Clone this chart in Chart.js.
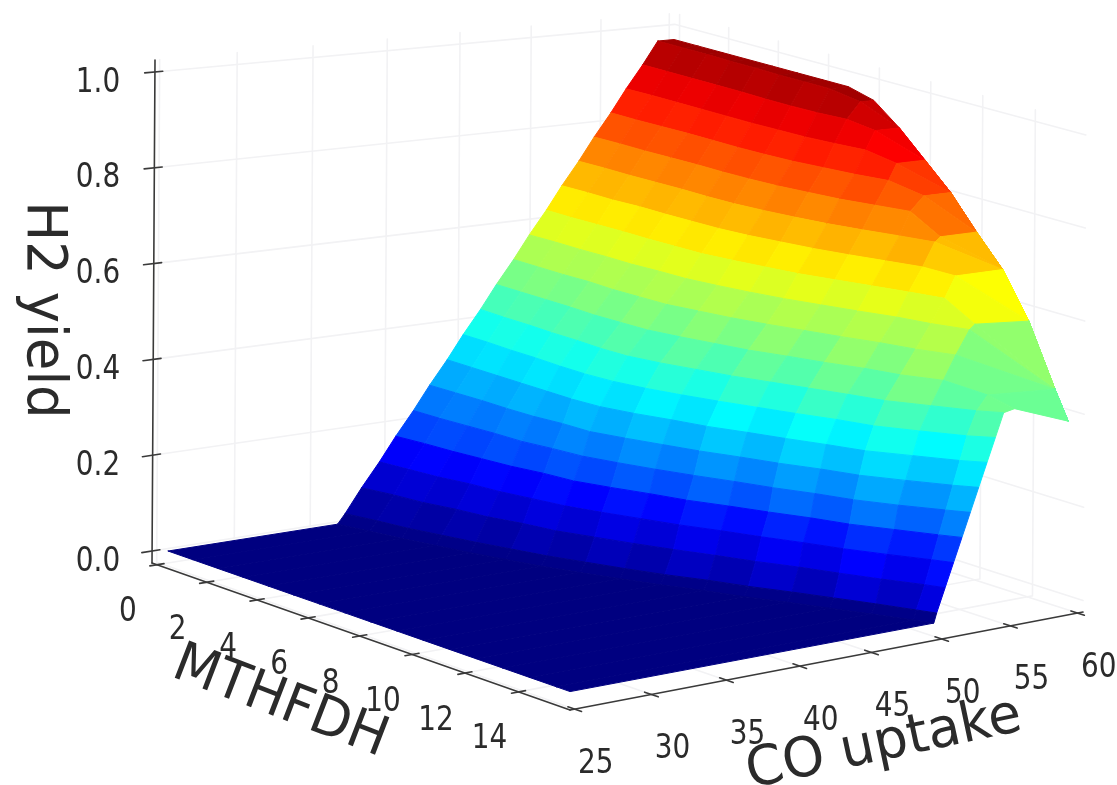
<!DOCTYPE html>
<html>
<head>
<meta charset="utf-8">
<title>H2 yield surface</title>
<script src="https://cdn.jsdelivr.net/npm/chart.js@4"></script>
<style>
  html, body { margin: 0; padding: 0; background: #fff; }
  canvas { display: block; filter: blur(0.6px); }
</style>
</head>
<body>
<canvas id="surface" width="1117" height="785"></canvas>
<script>
// ===================== data ===================== //
const mthfdhValues = [0, 1, 2, 3, 4, 5, 6, 7, 8, 9, 10, 11, 12, 13, 14, 15, 15.5];
const coUptakeStart = 25.4;
const coUptakeEnd = 60;

// yield levels followed across the surface (the colour bands)
const yieldLevels = [0, .02, .07, .12, .17, .22, .27, .32, .37, .42, .47, .52, .57, .62, .67, .72, .77, .82, .87, .92, .97];

// highest yield on each MTHFDH row, and the yield left at the CO uptake = 60 edge
const yieldCap = [.97, .97, .97, .97, .97, .97, .97, .97, .955, .91, .855, .80, .73, .665, .58, .45, .425];
const yieldAtEnd = [.97, .97, .97, .97, .97, .97, .97, .97, .955, .91, .855, .80, .73, .665, .57, .44, .38];

// CO uptake where each MTHFDH row reaches each yield level
const coAtLevel = [
    [36.5, 37.0, 38.1, 39.3, 40.4, 41.6, 42.7, 43.9, 45.0, 46.2, 47.3, 48.5, 49.6, 50.8, 51.9, 53.1, 54.2, 55.4, 56.5, 57.7, 58.8],
    [37.0, 37.5, 38.6, 39.6, 40.7, 41.7, 42.8, 43.9, 45.0, 46.1, 47.3, 48.5, 49.7, 50.8, 52.0, 53.2, 54.3, 55.4, 56.6, 57.7, 58.8],
    [37.5, 37.9, 38.9, 39.9, 40.9, 41.9, 42.9, 43.9, 44.9, 46.1, 47.3, 48.5, 49.7, 50.9, 52.0, 53.2, 54.3, 55.5, 56.6, 57.7, 58.8],
    [38.1, 38.5, 39.5, 40.4, 41.2, 42.1, 42.9, 43.9, 44.9, 46.0, 47.3, 48.6, 49.8, 51.0, 52.2, 53.3, 54.4, 55.6, 56.6, 57.7, 58.7],
    [38.7, 39.1, 39.9, 40.7, 41.5, 42.2, 43.0, 43.9, 44.8, 46.0, 47.2, 48.5, 49.8, 51.0, 52.2, 53.4, 54.5, 55.6, 56.6, 57.7, 58.7],
    [39.4, 39.8, 40.6, 41.2, 42.0, 42.6, 43.3, 43.9, 44.8, 45.9, 47.3, 48.6, 50.0, 51.1, 52.3, 53.4, 54.5, 55.6, 56.6, 57.6, 58.6],
    [40.1, 40.5, 41.1, 41.7, 42.3, 42.9, 43.4, 44.1, 45.0, 46.0, 47.4, 48.7, 50.1, 51.2, 52.4, 53.5, 54.6, 55.7, 56.7, 57.6, 58.6],
    [41.0, 41.4, 42.0, 42.5, 43.1, 43.6, 44.1, 44.7, 45.5, 46.5, 47.9, 49.2, 50.5, 51.6, 52.7, 53.8, 54.8, 55.9, 56.8, 57.7, 58.6],
    [42.0, 42.3, 42.9, 43.4, 44.0, 44.4, 44.9, 45.5, 46.2, 47.2, 48.5, 49.7, 51.0, 52.1, 53.2, 54.2, 55.2, 56.3, 57.1, 58.0, 59.0],
    [43.0, 43.3, 43.9, 44.3, 44.8, 45.3, 45.7, 46.2, 47.0, 47.9, 49.1, 50.4, 51.6, 52.6, 53.7, 54.7, 55.6, 56.7, 57.5, 58.2, 60],
    [44.2, 44.5, 45.0, 45.4, 45.9, 46.3, 46.7, 47.2, 47.9, 48.8, 50.0, 51.2, 52.4, 53.4, 54.4, 55.4, 56.3, 57.3, 57.9, 60, 60],
    [45.2, 45.5, 46.0, 46.4, 46.9, 47.2, 47.6, 48.1, 48.8, 49.7, 50.8, 52.0, 53.2, 54.2, 55.2, 56.2, 57.0, 58.0, 60, 60, 60],
    [46.4, 46.7, 47.2, 47.5, 48.0, 48.3, 48.7, 49.1, 49.8, 50.6, 51.8, 52.9, 54.1, 55.0, 56.0, 56.9, 57.3, 60, 60, 60, 60],
    [47.5, 47.8, 48.2, 48.5, 48.9, 49.2, 49.6, 50.0, 50.6, 51.4, 52.5, 53.6, 54.7, 55.7, 56.5, 60, 60, 60, 60, 60, 60],
    [48.6, 48.9, 49.3, 49.7, 50.2, 50.5, 51.0, 51.5, 52.0, 52.8, 53.7, 54.6, 55.6, 56.0, 60, 60, 60, 60, 60, 60, 60],
    [49.7, 49.9, 50.5, 51.0, 51.5, 52.0, 52.5, 53.0, 53.5, 54.2, 55.0, 60, 60, 60, 60, 60, 60, 60, 60, 60, 60],
    [50.2, 50.4, 51.0, 51.6, 52.2, 52.8, 53.4, 54.0, 54.6, 55.2, 56.0, 60, 60, 60, 60, 60, 60, 60, 60, 60, 60]
];

const yieldTicks = [0, 0.2, 0.4, 0.6, 0.8, 1];
const mthfdhTicks = [0, 2, 4, 6, 8, 10, 12, 14];
const coUptakeTicks = [25, 30, 35, 40, 45, 50, 55, 60];

// ===================== 3D box and camera ===================== //
const box = { uLo: -0.2, uHi: 15.9, vLo: 24.7, vHi: 60.4, zLo: -0.025, zHi: 1.025 };

function project(u, v, z) {
    const s = (u - box.uLo) / (box.uHi - box.uLo);
    const t = (v - box.vLo) / (box.vHi - box.vLo);
    const r = (z - box.zLo) / (box.zHi - box.zLo);
    const w = 1 - 0.0485 * s + 0.0776 * t;
    return {
        x: (390.4 * s + 572.1 * t + 152 + 3 * r) / w,
        y: (112.6 * s - 45.75 * t + 563 - 503 * r) / w
    };
}

// matplotlib jet
function jet(x) {
    const c = k => Math.round(255 * Math.max(0, Math.min(1, 1.5 - Math.abs(4 * x - k))));
    return `rgb(${c(3)},${c(2)},${c(1)})`;
}

function lineSet(points, color, width) {
    return { data: points, showLine: true, fill: false, borderColor: color, borderWidth: width, pointRadius: 0 };
}

// mesh vertex on row i: column 0 is the flat start, then the levels, then the far edge
function vertex(i, col) {
    const u = mthfdhValues[i];
    if (col === 0) return { u, v: coUptakeStart, z: 0 };
    if (col > yieldLevels.length) return { u, v: coUptakeEnd, z: yieldAtEnd[i] };
    const v = coAtLevel[i][col - 1];
    const z = v >= coUptakeEnd ? yieldAtEnd[i] : Math.min(yieldLevels[col - 1], yieldCap[i]);
    return { u, v, z };
}

// ===================== build datasets ===================== //
const datasets = [];
const axisColor = '#3a3a3a';
const gridColor = '#f2f2f4';

// axes and ticks go first so they sit on top
datasets.push(lineSet([project(box.uLo, box.vLo, box.zLo), project(box.uLo, box.vLo, box.zHi)], axisColor, 1.6));
datasets.push(lineSet([project(box.uLo, box.vLo, box.zLo), project(box.uHi, box.vLo, box.zLo)], axisColor, 1.6));
datasets.push(lineSet([project(box.uHi, box.vLo, box.zLo), project(box.uHi, box.vHi, box.zLo)], axisColor, 1.6));
yieldTicks.forEach(z => {
    datasets.push(lineSet([project(box.uLo, box.vLo - 0.65, z), project(box.uLo, box.vLo + 0.5, z)], axisColor, 1.6));
});
mthfdhTicks.forEach(u => {
    datasets.push(lineSet([project(u, box.vLo - 0.45, box.zLo), project(u, box.vLo + 0.45, box.zLo)], axisColor, 1.6));
});
coUptakeTicks.forEach(v => {
    datasets.push(lineSet([project(box.uHi - 0.25, v, box.zLo), project(box.uHi + 0.25, v, box.zLo)], axisColor, 1.6));
});

// surface: nearest facet first, chart.js paints the first dataset last
const colCount = yieldLevels.length + 2;
for (let i = mthfdhValues.length - 2; i >= 0; i--) {
    for (let col = 0; col < colCount - 1; col++) {
        const corners = [vertex(i, col), vertex(i, col + 1), vertex(i + 1, col + 1), vertex(i + 1, col)];
        const meanZ = corners.reduce((sum, c) => sum + c.z, 0) / 4;
        const meanU = (corners[0].u + corners[2].u) / 2 / 15.5;
        // low bands run a little dark in the picture, low colours come early on the right side
        let pos = meanZ < 0.15 ? meanZ * 0.85 : meanZ;
        const rightShift = 0.045 * meanU * meanU * Math.max(0, Math.min(1, (0.55 - meanZ) / 0.1));
        const stripe = (0.002 + 0.011 * meanU) * (meanZ > 0.5 ? 0.5 : 1);
        if (meanZ > 0.012) pos += rightShift + (i % 2 ? stripe : -stripe);
        const color = jet(Math.max(0, pos));
        const pts = corners.map(c => project(c.u, c.v, c.z));
        datasets.push({
            data: [...pts, pts[0]],
            showLine: true,
            fill: 'shape',
            backgroundColor: color,
            borderColor: color,
            borderWidth: 1,
            pointRadius: 0
        });
    }
}

// faint grid on the floor and the two walls
yieldTicks.forEach(z => {
    datasets.push(lineSet([project(box.uLo, box.vLo, z), project(box.uLo, box.vHi, z), project(box.uHi, box.vHi, z)], gridColor, 1.6));
});
mthfdhTicks.forEach(u => {
    datasets.push(lineSet([project(u, box.vLo, box.zLo), project(u, box.vHi, box.zLo), project(u, box.vHi, box.zHi)], gridColor, 1.6));
});
coUptakeTicks.forEach(v => {
    datasets.push(lineSet([project(box.uHi, v, box.zLo), project(box.uLo, v, box.zLo), project(box.uLo, v, box.zHi)], gridColor, 1.6));
});

// ===================== labels ===================== //
const labelPlugin = {
    id: 'labels3d',
    afterDraw(chart) {
        const { ctx, scales } = chart;
        const text = (str, x, y, size, angle, sx, sy) => {
            ctx.save();
            ctx.translate(scales.x.getPixelForValue(x), scales.y.getPixelForValue(y));
            ctx.rotate(angle * Math.PI / 180);
            ctx.scale(sx, sy);
            ctx.font = `${size}px "DejaVu Sans"`;
            ctx.fillStyle = '#2b2b2b';
            ctx.textAlign = 'center';
            ctx.textBaseline = 'middle';
            ctx.fillText(str, 0, 0);
            ctx.restore();
        };
        yieldTicks.forEach(z => {
            const p = project(box.uLo, box.vLo, z);
            text(z.toFixed(1), 98, p.y + 11, 30, 0, 0.93, 1.1);
        });
        mthfdhTicks.forEach(u => {
            const p = project(u, box.vLo, box.zLo);
            text(String(u), p.x - 29, p.y + 48, 30, 0, 0.93, 1.1);
        });
        coUptakeTicks.forEach(v => {
            const p = project(box.uHi, v, box.zLo);
            text(String(v), p.x + 21, p.y + 55, 30, 0, 0.93, 1.1);
        });
        text('H2 yield', 42, 310, 50, 90, 1.06, 1.1);
        text('MTHFDH', 280, 703, 50, 21, 1.04, 1.1);
        text('CO uptake', 884, 745, 50, -12, 1.07, 1.1);
    }
};

new Chart(document.getElementById('surface'), {
    type: 'scatter',
    data: { datasets },
    plugins: [labelPlugin],
    options: {
        responsive: false,
        animation: false,
        layout: { padding: 0 },
        events: [],
        elements: { line: { tension: 0, borderCapStyle: 'round' } },
        scales: {
            x: { type: 'linear', min: 0, max: 1117, display: false },
            y: { type: 'linear', min: 0, max: 785, reverse: true, display: false }
        },
        plugins: { legend: { display: false }, tooltip: { enabled: false } }
    }
});
</script>
</body>
</html>
